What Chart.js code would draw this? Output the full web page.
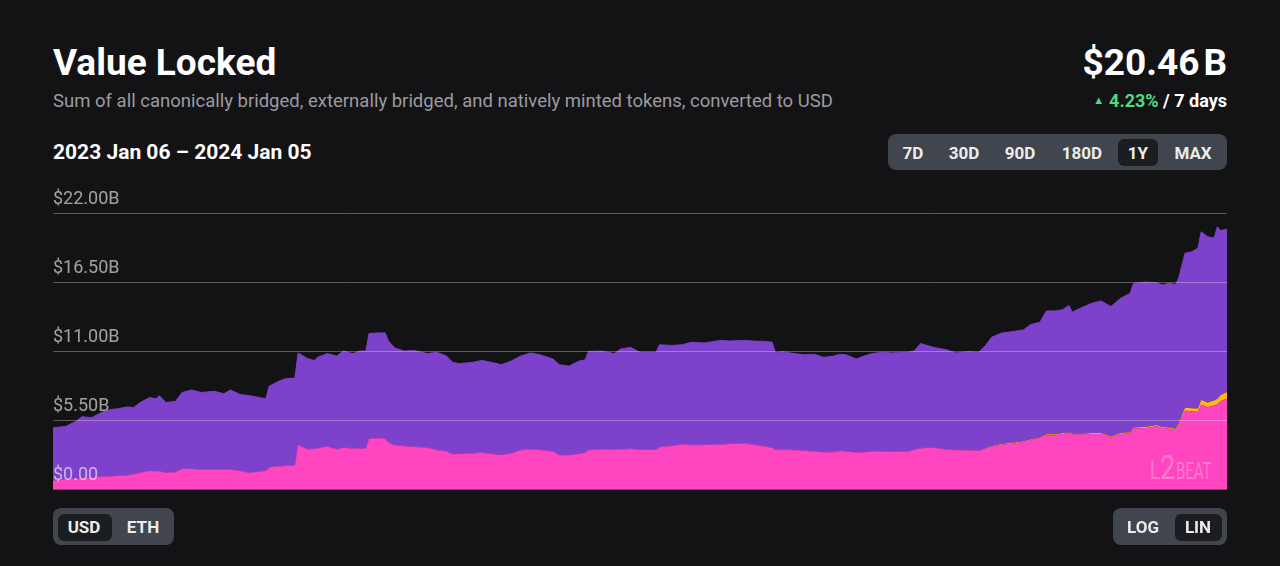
<!DOCTYPE html>
<html>
<head>
<meta charset="utf-8">
<script src="https://cdn.jsdelivr.net/npm/chart.js@4/dist/chart.umd.min.js"></script>
<style>
  html, body { margin: 0; padding: 0; }
  body {
    width: 1280px; height: 566px; background: #131315; color: #fff;
    font-family: Roboto, "Noto Sans", sans-serif; position: relative; overflow: hidden;
  }
  .abs { position: absolute; white-space: nowrap; }
  .title { left: 53px; top: 44px; font-size: 37px; font-weight: 700; line-height: 37px; }
  .subtitle { left: 53px; top: 92px; font-size: 18.5px; line-height: 18.5px; color: #9b9ba1; }
  .range { left: 53px; top: 142px; font-size: 21px; font-weight: 700; line-height: 21px; }
  .total { right: 53px; top: 44px; font-size: 37px; font-weight: 700; line-height: 37px; }
  .change { right: 53px; top: 92px; font-size: 18px; font-weight: 700; line-height: 18px; }
  .change .up { color: #4ade80; }
  .change .tri { font-size: 11px; vertical-align: 3px; margin-right: 5px; }
  .group { position: absolute; background: #41454d; border-radius: 8px; }
  .active { position: absolute; background: #1c1d21; border-radius: 6px; }
  .btn { position: absolute; transform: translate(-50%, -50%); font-size: 17px; font-weight: 700; color: #ececec; line-height: 17px; }
  #chartBox { position: absolute; left: 53px; top: 180px; width: 1174px; height: 320px; }
  .logo { position: absolute; left: 1148px; top: 452px; color: rgba(255,255,255,0.28); font-weight: 400; white-space: nowrap; line-height: 30px; }
</style>
</head>
<body>
  <div class="abs title">Value Locked</div>
  <div class="abs subtitle">Sum of all canonically bridged, externally bridged, and natively minted tokens, converted to USD</div>
  <div class="abs range">2023 Jan 06 – 2024 Jan 05</div>
  <div class="abs total">$20.46<span style="margin-left:4px;">B</span></div>
  <div class="abs change"><span class="up"><span class="tri">▲</span>4.23%</span> / 7 days</div>

  <div class="group" style="left:888px; top:134px; width:339px; height:36px;"></div>
  <div class="active" style="left:1118px; top:139px; width:40px; height:27px;"></div>
  <div class="btn" style="left:913px; top:152.5px;">7D</div>
  <div class="btn" style="left:964px; top:152.5px;">30D</div>
  <div class="btn" style="left:1020px; top:152.5px;">90D</div>
  <div class="btn" style="left:1082px; top:152.5px;">180D</div>
  <div class="btn" style="left:1138px; top:152.5px;">1Y</div>
  <div class="btn" style="left:1193px; top:152.5px;">MAX</div>

  <div id="chartBox"><canvas id="tvlChart"></canvas></div>

  <div class="logo">
    <span style="font-size:26px; display:inline-block; transform:scaleX(0.75);">L</span><span style="font-size:34px; display:inline-block; transform:scaleX(0.8); margin-left:-4px;">2</span><span style="font-size:24px; display:inline-block; transform:scaleX(0.62); transform-origin:left; margin-left:-1px;">BEAT</span>
  </div>

  <div class="group" style="left:53px; top:508px; width:121px; height:37px;"></div>
  <div class="active" style="left:58px; top:514px; width:54px; height:27px;"></div>
  <div class="btn" style="left:84px; top:527px;">USD</div>
  <div class="btn" style="left:143px; top:527px;">ETH</div>

  <div class="group" style="left:1113px; top:508px; width:114px; height:37px;"></div>
  <div class="active" style="left:1175px; top:514px; width:47px; height:27px;"></div>
  <div class="btn" style="left:1143px; top:527px;">LOG</div>
  <div class="btn" style="left:1198px; top:527px;">LIN</div>

<script>
// days since 2023 Jan 06
const days = [
  0, 4, 7, 9, 12, 15, 18, 20, 23, 25, 27, 30, 32, 33, 35, 38, 40, 43, 46, 50,
  53, 55, 58, 61, 64, 66, 67, 70, 72, 75, 76, 79, 81, 82, 85, 88, 90, 93, 95, 97,
  98, 101, 103, 104, 106, 109, 112, 116, 119, 122, 124, 126, 130, 133, 136, 139, 142, 145, 148, 151,
  155, 157, 160, 163, 165, 166, 170, 174, 176, 179, 182, 187, 188, 192, 195, 198, 202, 207, 210, 214,
  217, 221, 223, 224, 226, 230, 233, 236, 239, 242, 244, 246, 249, 252, 254, 257, 260, 265, 267, 269,
  271, 273, 277, 280, 284, 287, 289, 291, 294, 298, 301, 303, 306, 308, 311, 313, 315, 316, 319, 322,
  325, 328, 331, 334, 335, 339, 342, 344, 346, 348, 349, 351, 353, 355, 356, 358, 360, 361, 362, 364
];

// natively minted (pink, bottom layer), $B
const nativelyMinted = [
  0.66, 0.8, 0.82, 0.85, 0.92, 1.0, 1.02, 1.05, 1.1, 1.17, 1.3, 1.45, 1.42, 1.42, 1.3, 1.35, 1.6, 1.6, 1.55, 1.55,
  1.55, 1.55, 1.45, 1.3, 1.4, 1.45, 1.72, 1.8, 1.85, 1.85, 3.5, 3.17, 3.2, 3.25, 3.4, 3.17, 3.3, 3.23, 3.23, 3.25,
  4.0, 4.05, 4.0, 3.7, 3.5, 3.42, 3.37, 3.3, 3.12, 3.0, 2.78, 2.8, 2.85, 2.9, 2.8, 2.7, 2.85, 3.1, 3.17, 3.12,
  3.0, 2.7, 2.7, 2.8, 2.9, 3.1, 3.17, 3.15, 3.17, 3.2, 3.12, 3.12, 3.35, 3.44, 3.57, 3.5, 3.52, 3.55, 3.6, 3.65,
  3.55, 3.39, 3.3, 3.1, 3.15, 3.1, 3.05, 3.0, 2.95, 2.95, 3.05, 3.0, 2.9, 2.95, 3.0, 3.0, 2.98, 3.0, 3.12, 3.25,
  3.3, 3.3, 3.15, 3.1, 3.1, 3.05, 3.2, 3.4, 3.55, 3.65, 3.75, 3.9, 4.05, 4.3, 4.3, 4.4, 4.45, 4.35, 4.35, 4.4,
  4.4, 4.12, 4.4, 4.45, 4.83, 4.88, 5.02, 4.87, 4.82, 4.72, 5.05, 6.25, 6.2, 6.15, 6.72, 6.52, 6.67, 6.75, 7.0, 7.2
];

// externally bridged (yellow, middle layer), $B
const externallyBridged = [
  0, 0, 0, 0, 0, 0, 0, 0, 0, 0, 0, 0, 0, 0, 0, 0, 0, 0, 0, 0,
  0, 0, 0, 0, 0, 0, 0, 0, 0, 0, 0, 0, 0, 0, 0, 0, 0, 0, 0, 0,
  0, 0, 0, 0, 0, 0, 0, 0, 0, 0, 0, 0, 0, 0, 0, 0, 0, 0, 0, 0,
  0, 0, 0, 0, 0, 0, 0, 0, 0, 0, 0, 0, 0, 0, 0, 0, 0, 0, 0, 0,
  0, 0, 0, 0, 0, 0, 0, 0, 0, 0, 0, 0, 0, 0, 0, 0, 0, 0, 0, 0,
  0, 0, 0, 0, 0, 0, 0.05, 0.05, 0.06, 0.06, 0.06, 0.06, 0.06, 0.07, 0.07, 0.07, 0.07, 0.07, 0.07, 0.07,
  0.07, 0.07, 0.07, 0.08, 0.08, 0.09, 0.09, 0.09, 0.09, 0.1, 0.17, 0.25, 0.25, 0.27, 0.38, 0.38, 0.4, 0.45, 0.5, 0.55
];

// canonically bridged (purple, top layer), $B
const canonicallyBridged = [
  4.24, 4.2, 4.58, 4.92, 4.78, 5.1, 5.33, 5.35, 5.45, 5.33, 5.6, 5.85, 5.78, 6.03, 5.6, 5.65, 6.1, 6.3, 6.15, 6.25,
  6.05, 6.35, 6.1, 6.15, 5.9, 5.75, 6.48, 6.8, 6.95, 7.0, 7.35, 7.23, 7.05, 7.25, 7.4, 7.43, 7.7, 7.57, 7.77, 7.75,
  8.4, 8.4, 8.45, 8.1, 7.75, 7.58, 7.68, 7.5, 7.78, 7.6, 7.32, 7.2, 7.25, 7.36, 7.3, 7.22, 7.35, 7.5, 7.68, 7.58,
  7.37, 7.22, 7.1, 7.4, 7.4, 7.87, 7.83, 7.65, 8.0, 8.1, 7.78, 7.78, 8.15, 8.01, 7.93, 8.2, 8.13, 8.3, 8.2, 8.2,
  8.25, 8.38, 8.4, 7.75, 7.8, 7.7, 7.65, 7.75, 7.55, 7.65, 7.7, 7.7, 7.47, 7.7, 7.8, 7.9, 7.87, 7.9, 7.88, 8.35,
  8.15, 8.0, 7.95, 7.75, 7.85, 7.85, 8.15, 8.65, 8.82, 8.86, 8.89, 9.14, 9.19, 9.83, 9.83, 9.83, 10.11, 9.68, 10.05, 10.33,
  10.53, 10.36, 10.73, 11.07, 11.49, 11.53, 11.34, 11.31, 11.49, 11.48, 11.58, 12.3, 12.45, 12.78, 13.4, 13.2, 12.93, 13.7, 13.1, 12.95
];

const yTicks = [0, 5.5, 11, 16.5, 22];

const toPoints = (values) => days.map((d, i) => ({ x: d, y: values[i] }));

const ctx = document.getElementById('tvlChart').getContext('2d');
const tvlChart = new Chart(ctx, {
    type: 'line',
    data: {
        datasets: [{
            label: 'Natively minted',
            data: toPoints(nativelyMinted),
            backgroundColor: '#ff46c0',
            borderColor: '#ff46c0',
            borderWidth: 0.5,
            fill: 'origin'
        }, {
            label: 'Externally bridged',
            data: toPoints(externallyBridged),
            backgroundColor: '#fdb813',
            borderWidth: 0,
            fill: '-1'
        }, {
            label: 'Canonically bridged',
            data: toPoints(canonicallyBridged),
            backgroundColor: '#7e41cc',
            borderColor: '#7e41cc',
            borderWidth: 1,
            fill: '-1'
        }]
    },
    options: {
        responsive: true,
        maintainAspectRatio: false,
        animation: false,
        events: [],
        layout: { padding: { top: 33, bottom: 0, left: 0, right: 0 } },
        elements: { point: { radius: 0 }, line: { tension: 0 } },
        plugins: {
            legend: { display: false },
            tooltip: { enabled: false }
        },
        scales: {
            x: {
                type: 'linear',
                min: 0,
                max: 364,
                display: false
            },
            y: {
                stacked: true,
                min: 0,
                max: 22,
                afterBuildTicks: (axis) => {
                    axis.ticks = yTicks.map(v => ({ value: v }));
                },
                border: { display: false },
                // grid and labels sit on top of the filled areas
                grid: { color: 'rgba(255,255,255,0.3)', lineWidth: 1, drawTicks: false, z: 1 },
                ticks: {
                    z: 1,
                    mirror: true,
                    padding: 0,
                    labelOffset: -14,
                    color: 'rgba(255,255,255,0.6)',
                    font: { family: 'Roboto', size: 18 },
                    callback: (value) => value === 0 ? '$0.00' : '$' + value.toFixed(2) + 'B'
                }
            }
        }
    }
});
</script>
</body>
</html>
